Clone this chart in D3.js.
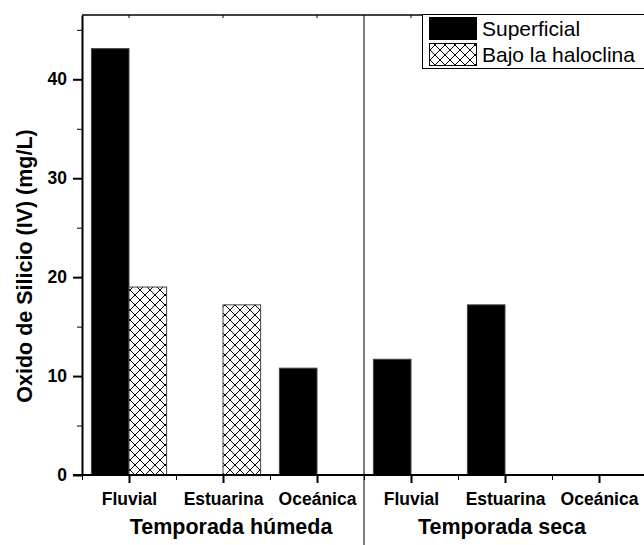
<!DOCTYPE html>
<html>
<head>
<meta charset="utf-8">
<script src="https://cdn.jsdelivr.net/npm/d3@7/dist/d3.min.js"></script>
<style>
  html, body { margin: 0; padding: 0; background: #fff; }
  svg { display: block; font-family: "Liberation Sans", Arial, sans-serif; }
</style>
</head>
<body>
<svg id="chart" width="644" height="545"></svg>
<script>
// Silicon oxide concentration by zone and season
const categories = ["Fluvial", "Estuarina", "Oceánica"];
const seasons = ["Temporada húmeda", "Temporada seca"];
const seriesNames = ["Superficial", "Bajo la haloclina"];
// one value per (season, zone), wet season first; null = no sample
const superficial = [43.1, null, 10.8, 11.7, 17.2, null];
const bajoHaloclina = [19.0, 17.2, null, null, null, null];
const yMajorTicks = [0, 10, 20, 30, 40];
const yMinorTicks = [5, 15, 25, 35, 45];
const yLabel = "Oxido de Silicio (IV) (mg/L)";

const svg = d3.select("#chart");
const plotLeft = 82, plotRight = 646, plotTop = 15, plotBottom = 475;

// positions 1..6: three zones per season
const x = d3.scaleLinear().domain([0.5, 6.5]).range([plotLeft, plotRight]);
const y = d3.scaleLinear().domain([0, 46.5]).range([plotBottom, plotTop]);
const barW = 0.4;

// cross-hatch fill
const defs = svg.append("defs");
const pat = defs.append("pattern")
  .attr("id", "hatch").attr("patternUnits", "userSpaceOnUse")
  .attr("width", 10).attr("height", 10);
pat.append("rect").attr("width", 10).attr("height", 10).attr("fill", "#fff");
pat.append("path").attr("d", "M0,0 L10,10 M10,0 L0,10 M-1,9 L1,11 M9,-1 L11,1 M9,11 L11,9 M-1,1 L1,-1")
  .attr("stroke", "#000").attr("stroke-width", 1.1).attr("shape-rendering", "crispEdges");

const rows = d3.range(6).map(i => ({
  pos: i + 1,
  zone: categories[i % 3],
  sup: superficial[i],
  bajo: bajoHaloclina[i]
}));

// bars
const g = svg.append("g");
g.selectAll("rect.sup").data(rows.filter(d => d.sup != null)).join("rect")
  .attr("class", "sup")
  .attr("x", d => x(d.pos - barW)).attr("width", d => x(d.pos) - x(d.pos - barW))
  .attr("y", d => y(d.sup)).attr("height", d => y(0) - y(d.sup))
  .attr("fill", "#000").attr("stroke", "#444").attr("stroke-width", 1);
g.selectAll("rect.bajo").data(rows.filter(d => d.bajo != null)).join("rect")
  .attr("class", "bajo")
  .attr("x", d => x(d.pos)).attr("width", d => x(d.pos + barW) - x(d.pos))
  .attr("y", d => y(d.bajo)).attr("height", d => y(0) - y(d.bajo))
  .attr("fill", "url(#hatch)").attr("stroke", "#444").attr("stroke-width", 1);

// top frame line with small inward ticks
svg.append("line").attr("x1", plotLeft).attr("x2", 644).attr("y1", plotTop).attr("y2", plotTop)
  .attr("stroke", "#000").attr("stroke-width", 1.5);
svg.append("g").selectAll("line").data(d3.range(1, 7)).join("line")
  .attr("x1", d => x(d)).attr("x2", d => x(d)).attr("y1", plotTop).attr("y2", plotTop + 3)
  .attr("stroke", "#000").attr("stroke-width", 1);

// season separator
svg.append("line").attr("x1", x(3.5)).attr("x2", x(3.5)).attr("y1", plotTop).attr("y2", 545)
  .attr("stroke", "#000").attr("stroke-width", 1);

// y axis
const yAxis = svg.append("g").attr("transform", `translate(${plotLeft},0)`)
  .call(d3.axisLeft(y).tickValues(yMajorTicks).tickSize(9).tickPadding(6).tickSizeOuter(0));
svg.append("g").attr("transform", `translate(${plotLeft},0)`)
  .call(d3.axisLeft(y).tickValues(yMinorTicks).tickSize(5).tickFormat("").tickSizeOuter(0))
  .select(".domain").remove();
yAxis.select(".domain").attr("stroke-width", 2);
yAxis.selectAll(".tick line").attr("stroke-width", 2);
yAxis.selectAll(".tick text").attr("font-size", "17.5px").attr("font-weight", "bold")
  .attr("font-family", "Liberation Sans, Arial, sans-serif").attr("fill", "#000");

// x axis
const xAxis = svg.append("g").attr("transform", `translate(0,${plotBottom})`)
  .call(d3.axisBottom(x).tickValues(d3.range(1, 7)).tickSize(8).tickPadding(10).tickSizeOuter(0)
    .tickFormat(d => categories[(d - 1) % 3]));
svg.append("g").attr("transform", `translate(0,${plotBottom})`)
  .call(d3.axisBottom(x).tickValues([0.5, 1.5, 2.5, 3.5, 4.5, 5.5]).tickSize(5).tickFormat("").tickSizeOuter(0))
  .select(".domain").remove();
xAxis.select(".domain").attr("stroke-width", 2).attr("d", `M${plotLeft - 9},0H${644}`);
xAxis.selectAll(".tick line").attr("stroke-width", 2);
xAxis.selectAll(".tick text").attr("font-size", "17.5px").attr("font-weight", "bold")
  .attr("font-family", "Liberation Sans, Arial, sans-serif").attr("fill", "#000");

// season titles
svg.append("g").selectAll("text").data(seasons).join("text")
  .attr("x", (d, i) => x(2 + i * 3) + (i === 0 ? 8 : -3)).attr("y", 534)
  .attr("text-anchor", "middle").attr("font-size", "21.5px").attr("font-weight", "bold")
  .text(d => d);

// y title
svg.append("text")
  .attr("transform", `translate(32,${266}) rotate(-90)`)
  .attr("text-anchor", "middle").attr("font-size", "21.5px").attr("font-weight", "bold")
  .text(yLabel);

// legend
const lg = svg.append("g");
lg.append("rect").attr("x", 422.5).attr("y", 14.5).attr("width", 240).attr("height", 54)
  .attr("fill", "#fff").attr("stroke", "#000").attr("stroke-width", 1);
const fills = ["#000", "url(#hatch)"];
seriesNames.forEach((name, i) => {
  lg.append("rect").attr("x", 429.5).attr("y", 17.5 + i * 26).attr("width", 47).attr("height", 22)
    .attr("fill", fills[i]).attr("stroke", "#000").attr("stroke-width", 1);
  lg.append("text").attr("x", 482).attr("y", 36 + i * 26)
    .attr("font-size", "21px").text(name);
});
</script>
</body>
</html>
